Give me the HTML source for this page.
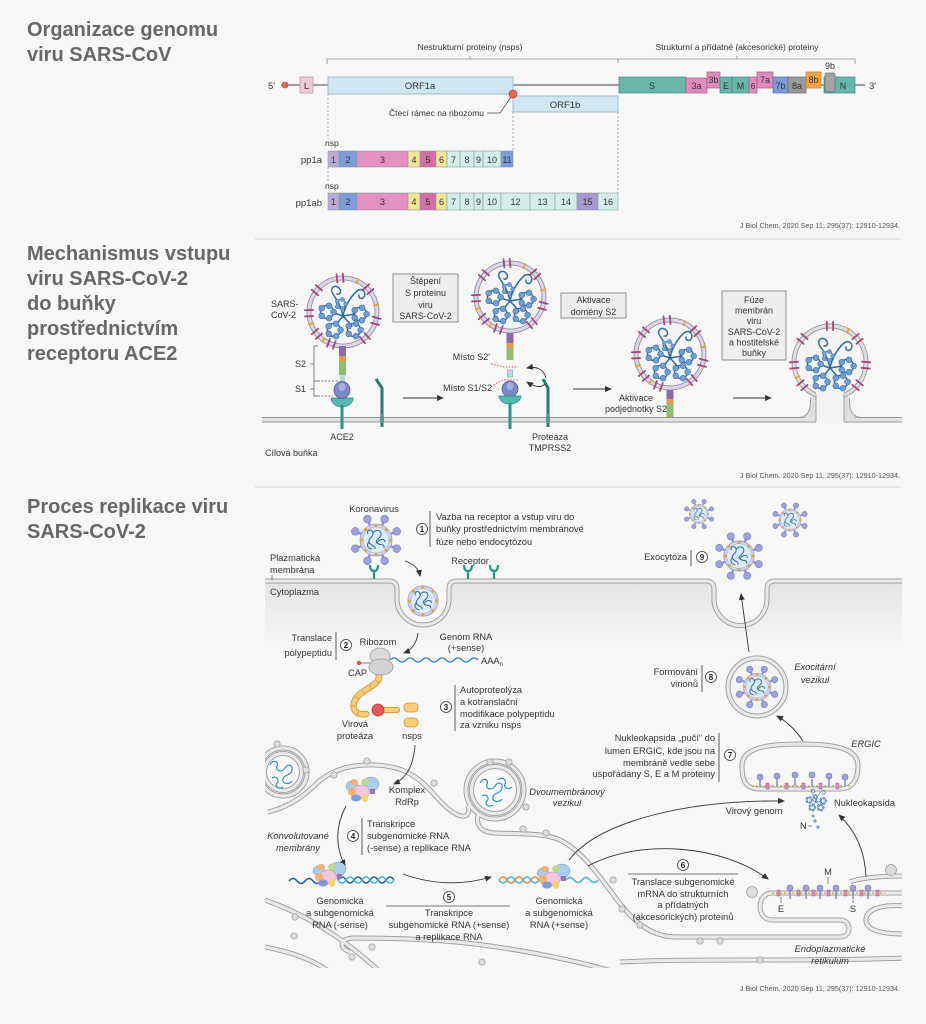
<!DOCTYPE html>
<html><head><meta charset="utf-8">
<style>
html,body{margin:0;padding:0;background:#f7f7f7;}
svg{display:block;}
text{font-family:"Liberation Sans",Arial,sans-serif;}
.t{font-size:20px;font-weight:bold;fill:#676767;}
.s1{font-size:8.5px;fill:#333;}
.n{font-size:9.5px;fill:#333;}
.nb{font-size:9px;fill:#333;}
.d{font-size:9px;fill:#333;}
.p{font-size:9.3px;fill:#333;}
.i{font-style:italic;}
.c{font-size:7.2px;fill:#555;}
.num{font-size:8px;font-weight:bold;fill:#222;}
</style></head><body>
<svg width="926" height="1024" viewBox="0 0 926 1024" xmlns="http://www.w3.org/2000/svg">
<defs>
<marker id="ah" markerUnits="userSpaceOnUse" markerWidth="7" markerHeight="7" refX="6" refY="3.5" orient="auto"><path d="M0,0.5 L7,3.5 L0,6.5 Z" fill="#333"/></marker>
<linearGradient id="cyt" x1="0" y1="0" x2="0" y2="1"><stop offset="0" stop-color="#e4e4e4"/><stop offset="1" stop-color="#f7f7f7"/></linearGradient>
<clipPath id="cl3"><rect x="265" y="700" width="637" height="268"/></clipPath>
<g id="ros">
 <circle r="5.5" fill="none" stroke="#2b6c9e" stroke-width="1.2"/>
 <g fill="#6f9fd6" stroke="#3a6aa4" stroke-width="0.5">
  <circle cx="5.5" cy="0" r="2.4"/><circle cx="1.7" cy="5.2" r="2.4"/><circle cx="-4.4" cy="3.2" r="2.4"/><circle cx="-4.4" cy="-3.2" r="2.4"/><circle cx="1.7" cy="-5.2" r="2.4"/>
 </g>
</g>
<g id="rnp">
 <g fill="none" stroke="#2b6c9e" stroke-width="1.5" stroke-linecap="round">
  <path d="M0,4 C-2,-6 -6,-12 -10,-18 C-14,-24 -8,-28 -4,-24 C-1,-21 -3,-17 -6,-18"/>
  <path d="M0,4 C2,-6 8,-16 14,-21 C19,-25 24,-20 21,-15 C19,-12 15,-14 16,-17"/>
  <path d="M0,4 L-12,0"/><path d="M0,4 L12,2"/><path d="M0,4 L-8,14"/><path d="M0,4 L9,14"/>
 </g>
 <use href="#ros" transform="translate(-16,0) scale(1.2)"/>
 <use href="#ros" transform="translate(17,2) scale(1.2)"/>
 <use href="#ros" transform="translate(-9,18) scale(1.2)"/>
 <use href="#ros" transform="translate(11,18) scale(1.2)"/>
 <use href="#ros" transform="translate(-2,-8) scale(0.85)"/>
</g>
<g id="sp2"><rect x="-5" y="-4" width="10" height="1.8" rx="0.9"/><rect x="-5" y="2.2" width="10" height="1.8" rx="0.9"/></g>
<g id="v2">
 <circle r="36" fill="#dcd5ea" stroke="#888" stroke-width="0.8"/>
 <circle r="32" fill="#f5f5f7" stroke="#888" stroke-width="0.8"/>
 <g fill="#a64680">
  <use href="#sp2" transform="rotate(-95) translate(34,0)"/>
  <use href="#sp2" transform="rotate(-140) translate(34,0)"/>
  <use href="#sp2" transform="rotate(-42) translate(34,0)"/>
  <use href="#sp2" transform="rotate(178) translate(34,0)"/>
  <use href="#sp2" transform="rotate(140) translate(34,0)"/>
  <use href="#sp2" transform="rotate(15) translate(34,0)"/>
  <use href="#sp2" transform="rotate(50) translate(34,0)"/>
  <use href="#sp2" transform="rotate(110) translate(34,0)"/>
 </g>
 <g fill="#e6a53a">
  <g transform="rotate(-65) translate(34,0)"><rect x="-3" y="-0.9" width="6" height="1.8"/></g>
  <g transform="rotate(-12) translate(34,0)"><rect x="-3" y="-0.9" width="6" height="1.8"/></g>
  <g transform="rotate(160) translate(34,0)"><rect x="-3" y="-0.9" width="6" height="1.8"/></g>
  <g transform="rotate(125) translate(34,0)"><rect x="-3" y="-0.9" width="6" height="1.8"/></g>
 </g>
 <use href="#rnp"/>
</g>
<g id="v3c">
 <circle r="16" fill="#d2cdea" stroke="#8a8fb5" stroke-width="0.6"/>
 <circle r="13" fill="#dcebf6" stroke="#9fb3c5" stroke-width="0.5"/>
 <g fill="#d9a53c">
  <circle cx="14.5" cy="0" r="1.6"/><circle cx="-14.5" cy="0" r="1.6"/><circle cx="0" cy="14.5" r="1.6"/><circle cx="0" cy="-14.5" r="1.6"/>
  <circle cx="10.3" cy="10.3" r="1.6"/><circle cx="-10.3" cy="10.3" r="1.6"/><circle cx="10.3" cy="-10.3" r="1.6"/><circle cx="-10.3" cy="-10.3" r="1.6"/>
 </g>
 <path d="M-8,-6 C-10,-10 -4,-12 -3,-7 C-2,-3 -8,-2 -7,2 C-6,6 0,5 -1,9 M-3,-7 C0,-11 6,-10 5,-5 C4,-1 -2,0 1,3 C4,6 9,3 8,8 M-7,2 C-10,5 -8,9 -4,9 M1,3 C3,-1 9,-2 9,2" fill="none" stroke="#2f6c9c" stroke-width="1.1"/>
</g>
<g id="sp3"><line x1="15" y1="0" x2="20" y2="0" stroke="#8b8fd0" stroke-width="2.4"/><circle cx="22.5" cy="0" r="3.8" fill="#9ea2dc" stroke="#7175b8" stroke-width="0.6"/></g>
<g id="v3">
 <use href="#sp3" transform="rotate(22.5)"/><use href="#sp3" transform="rotate(67.5)"/><use href="#sp3" transform="rotate(112.5)"/><use href="#sp3" transform="rotate(157.5)"/>
 <use href="#sp3" transform="rotate(202.5)"/><use href="#sp3" transform="rotate(247.5)"/><use href="#sp3" transform="rotate(292.5)"/><use href="#sp3" transform="rotate(337.5)"/>
 <use href="#v3c"/>
</g>
<g id="rdrp">
 <ellipse cx="9" cy="-6" rx="8" ry="7" fill="#a9cdea" stroke="#6a8fb0" stroke-width="0.5"/>
 <ellipse cx="-10" cy="-4" rx="6" ry="5" fill="#a9cdea" stroke="#6a8fb0" stroke-width="0.5"/>
 <ellipse cx="-8" cy="-8" rx="4" ry="3" fill="#f0b070"/>
 <ellipse cx="3" cy="-8" rx="4" ry="3.5" fill="#bcd98e"/>
 <ellipse cx="-1" cy="2" rx="8.5" ry="7" fill="#f2c6dc" stroke="#c08aa8" stroke-width="0.5"/>
 <ellipse cx="-10" cy="2" rx="4" ry="4" fill="#f0b070"/>
 <ellipse cx="-6" cy="8" rx="5" ry="3.5" fill="#7f9ad4"/>
 <ellipse cx="3" cy="8" rx="3" ry="4" fill="#f3d36a"/>
 <rect x="8" y="-1" width="5" height="5" fill="#9a74b8"/>
</g>
</defs>

<!-- Titles -->
<text class="t" x="27" y="36">Organizace genomu</text>
<text class="t" x="27" y="61">viru SARS-CoV</text>
<text class="t" x="27" y="260">Mechanismus vstupu</text>
<text class="t" x="27" y="285">viru SARS-CoV-2</text>
<text class="t" x="27" y="310">do buňky</text>
<text class="t" x="27" y="335">prostřednictvím</text>
<text class="t" x="27" y="360">receptoru ACE2</text>
<text class="t" x="27" y="513">Proces replikace viru</text>
<text class="t" x="27" y="538">SARS-CoV-2</text>

<line x1="255" y1="239" x2="900" y2="239" stroke="#dcdcdc" stroke-width="1.2"/>
<line x1="255" y1="487" x2="900" y2="487" stroke="#dcdcdc" stroke-width="1.2"/>

<!-- ============ SECTION 1 ============ -->
<g stroke="#8a8a8a" stroke-width="0.8" fill="none">
 <path d="M327,64 V59 H855 V64"/><path d="M618,59 V63"/><path d="M470,59 V56"/><path d="M737,59 V56"/>
</g>
<text class="s1" x="470" y="50" text-anchor="middle">Nestrukturní proteiny (nsps)</text>
<text class="s1" x="737" y="50" text-anchor="middle">Strukturní a přídatné (akcesorické) proteiny</text>
<line x1="281" y1="85" x2="865" y2="85" stroke="#444" stroke-width="1"/>
<text x="268" y="89" class="n">5′</text>
<circle cx="285" cy="85" r="3" fill="#ec6a55" stroke="#a83a2a" stroke-width="0.6"/>
<rect x="300" y="77" width="13" height="16" fill="#efcbd6" stroke="#a0a0a0" stroke-width="0.7"/>
<text x="306.5" y="89" text-anchor="middle" class="n">L</text>
<rect x="328" y="77" width="185" height="17" fill="#cfe7f1" stroke="#8fb3c0" stroke-width="0.8"/>
<text x="420" y="89" text-anchor="middle" class="n">ORF1a</text>
<rect x="513" y="96" width="105" height="16" fill="#cfe7f1" stroke="#8fb3c0" stroke-width="0.8"/>
<text x="565" y="108" text-anchor="middle" class="n">ORF1b</text>
<path d="M487,113 H500 L511,97" stroke="#444" stroke-width="0.7" fill="none"/>
<circle cx="513" cy="94" r="4" fill="#e86a55" stroke="#b04030" stroke-width="0.7"/>
<text x="484" y="116" text-anchor="end" class="s1">Čtecí rámec na ribozomu</text>
<g stroke="#888" stroke-width="0.7" stroke-dasharray="2,2">
 <line x1="328" y1="94" x2="328" y2="139"/><line x1="328" y1="167" x2="328" y2="181"/>
 <line x1="513" y1="112" x2="513" y2="151"/><line x1="618" y1="112" x2="618" y2="193"/>
</g>
<g stroke-width="0.7">
 <rect x="619" y="77" width="67" height="16" fill="#68b5aa" stroke="#3e8a80"/>
 <rect x="686" y="78" width="21" height="15" fill="#df8bbd" stroke="#a85a88"/>
 <rect x="707" y="72" width="13" height="16" fill="#df8bbd" stroke="#a85a88"/>
 <rect x="720" y="77" width="12" height="16" fill="#68b5aa" stroke="#3e8a80"/>
 <rect x="732" y="77" width="17" height="16" fill="#68b5aa" stroke="#3e8a80"/>
 <rect x="749" y="77" width="8" height="16" fill="#df8bbd" stroke="#a85a88"/>
 <rect x="757" y="72" width="16" height="16" fill="#df8bbd" stroke="#a85a88"/>
 <rect x="773" y="77" width="15" height="16" fill="#7d9bd6" stroke="#4f6fae"/>
 <rect x="788" y="77" width="18" height="16" fill="#9a9a9a" stroke="#6a6a6a"/>
 <rect x="806" y="72" width="15" height="16" fill="#f3a24a" stroke="#c07a2a"/>
 <rect x="824" y="77" width="31" height="16" fill="#68b5aa" stroke="#3e8a80"/>
 <rect x="825" y="73" width="10" height="19" rx="2" fill="#a4a4a4" stroke="#6a6a6a"/>
</g>
<g class="nb" text-anchor="middle">
 <text x="652" y="89">S</text><text x="696.5" y="89">3a</text><text x="713.5" y="83">3b</text>
 <text x="726" y="89">E</text><text x="740.5" y="89">M</text><text x="753" y="89" style="font-size:8px">6</text>
 <text x="765" y="83">7a</text><text x="780.5" y="89">7b</text><text x="797" y="89">8a</text>
 <text x="813.5" y="83">8b</text><text x="843" y="89">N</text><text x="830" y="69">9b</text>
</g>
<text x="869" y="89" class="n">3′</text>
<text x="325" y="146" class="s1">nsp</text>
<text x="322" y="163" text-anchor="end" class="n">pp1a</text>
<g stroke="#8a9a9c" stroke-width="0.6">
 <rect x="328" y="151" width="11" height="16" fill="#b9abd9"/>
 <rect x="339" y="151" width="18" height="16" fill="#7d9bd6"/>
 <rect x="357" y="151" width="51" height="16" fill="#e391c3"/>
 <rect x="408" y="151" width="12" height="16" fill="#f2e59a"/>
 <rect x="420" y="151" width="16" height="16" fill="#d06fa8"/>
 <rect x="436" y="151" width="11" height="16" fill="#f2e59a"/>
 <rect x="447" y="151" width="13" height="16" fill="#d3eeea"/>
 <rect x="460" y="151" width="14" height="16" fill="#d3eeea"/>
 <rect x="474" y="151" width="9" height="16" fill="#d3eeea"/>
 <rect x="483" y="151" width="18" height="16" fill="#d3eeea"/>
 <rect x="501" y="151" width="12" height="16" fill="#7d9bd6"/>
</g>
<g class="nb" text-anchor="middle">
 <text x="333.5" y="163">1</text><text x="348" y="163">2</text><text x="382.5" y="163">3</text><text x="414" y="163">4</text>
 <text x="428" y="163">5</text><text x="441.5" y="163">6</text><text x="453.5" y="163">7</text><text x="467" y="163">8</text>
 <text x="478.5" y="163">9</text><text x="492" y="163">10</text><text x="507" y="163">11</text>
</g>
<text x="325" y="189" class="s1">nsp</text>
<text x="322" y="206" text-anchor="end" class="n">pp1ab</text>
<g stroke="#8a9a9c" stroke-width="0.6">
 <rect x="328" y="193" width="11" height="17" fill="#b9abd9"/>
 <rect x="339" y="193" width="18" height="17" fill="#7d9bd6"/>
 <rect x="357" y="193" width="51" height="17" fill="#e391c3"/>
 <rect x="408" y="193" width="12" height="17" fill="#f2e59a"/>
 <rect x="420" y="193" width="16" height="17" fill="#d06fa8"/>
 <rect x="436" y="193" width="11" height="17" fill="#f2e59a"/>
 <rect x="447" y="193" width="13" height="17" fill="#d3eeea"/>
 <rect x="460" y="193" width="14" height="17" fill="#d3eeea"/>
 <rect x="474" y="193" width="9" height="17" fill="#d3eeea"/>
 <rect x="483" y="193" width="18" height="17" fill="#d3eeea"/>
 <rect x="501" y="193" width="29" height="17" fill="#d3eeea"/>
 <rect x="530" y="193" width="25" height="17" fill="#d3eeea"/>
 <rect x="555" y="193" width="22" height="17" fill="#d3eeea"/>
 <rect x="577" y="193" width="21" height="17" fill="#a898d0"/>
 <rect x="598" y="193" width="20" height="17" fill="#d3eeea"/>
</g>
<g class="nb" text-anchor="middle">
 <text x="333.5" y="205">1</text><text x="348" y="205">2</text><text x="382.5" y="205">3</text><text x="414" y="205">4</text>
 <text x="428" y="205">5</text><text x="441.5" y="205">6</text><text x="453.5" y="205">7</text><text x="467" y="205">8</text>
 <text x="478.5" y="205">9</text><text x="492" y="205">10</text><text x="515.5" y="205">12</text><text x="542.5" y="205">13</text>
 <text x="566" y="205">14</text><text x="587.5" y="205">15</text><text x="608" y="205">16</text>
</g>
<text x="900" y="228" text-anchor="end" class="c">J Biol Chem. 2020 Sep 11; 295(37): 12910-12934.</text>

<!-- ============ SECTION 2 ============ -->
<rect x="262" y="417.5" width="640" height="4.5" fill="#e2e2e2"/>
<line x1="262" y1="422" x2="902" y2="422" stroke="#999" stroke-width="0.9"/>
<line x1="262" y1="417.5" x2="806" y2="417.5" stroke="#999" stroke-width="0.9"/>
<line x1="854" y1="417.5" x2="902" y2="417.5" stroke="#999" stroke-width="0.9"/>

<use href="#v2" transform="translate(343,312)"/>
<rect x="339" y="346" width="7" height="10" fill="#8c6aa8"/>
<rect x="339" y="356" width="7" height="6" fill="#e29a40"/>
<rect x="339" y="362" width="7" height="13" fill="#8cc070"/>
<rect x="340" y="375" width="5" height="9" fill="#b8d8e4"/>
<path d="M331,398 A11,9 0 0 0 353,398 Z" fill="#55b7ad" stroke="#2d8a80" stroke-width="0.7"/>
<line x1="342" y1="405" x2="342" y2="429" stroke="#2a9488" stroke-width="3"/>
<ellipse cx="342" cy="390" rx="8" ry="8.5" fill="#7d88c8" stroke="#4a5598" stroke-width="0.7"/>
<ellipse cx="342" cy="387" rx="3.5" ry="4" fill="#a6aee0"/>
<g stroke="#555" stroke-width="0.7" fill="none">
 <path d="M318,346 H314 V381 H318"/><path d="M314,364 H310"/><path d="M314,381 V396 H318"/><path d="M314,389 H310"/>
</g>
<g stroke="#555" stroke-width="0.7" stroke-dasharray="2,1.5"><line x1="318" y1="381" x2="338" y2="381"/><line x1="318" y1="396" x2="333" y2="396"/></g>
<text class="d" x="306" y="367" text-anchor="end">S2</text>
<text class="d" x="306" y="392" text-anchor="end">S1</text>
<text class="d" x="271" y="307">SARS-</text>
<text class="d" x="271" y="318">CoV-2</text>
<path d="M382,427 V388 L376,379" stroke="#2a7a70" stroke-width="3" fill="none" stroke-linejoin="round"/>
<rect x="380" y="414" width="4" height="9" rx="2" fill="#5a9a90"/>
<text class="d" x="342" y="440" text-anchor="middle">ACE2</text>
<text class="d" x="265" y="456">Cílová buňka</text>
<line x1="403" y1="398" x2="443" y2="398" stroke="#333" stroke-width="0.9" marker-end="url(#ah)"/>

<rect x="393" y="274" width="65" height="48" fill="#eeeeee" stroke="#777" stroke-width="0.8"/>
<g class="d" text-anchor="middle"><text x="425.5" y="284">Štěpení</text><text x="425.5" y="296">S proteinu</text><text x="425.5" y="308">viru</text><text x="425.5" y="319">SARS-CoV-2</text></g>

<use href="#v2" transform="translate(510,297)"/>
<rect x="506.5" y="333" width="7" height="10" fill="#8c6aa8"/>
<rect x="506.5" y="343" width="7" height="5" fill="#e29a40"/>
<rect x="506.5" y="348" width="7" height="12" fill="#8cc070"/>
<rect x="507.5" y="370" width="5" height="7" fill="#b8d8e4" stroke="#6a8a9a" stroke-width="0.5"/>
<path d="M491,364 Q500,366 505,367 L518,367" stroke="#e05050" stroke-width="1" stroke-dasharray="1.5,1.5" fill="none"/>
<path d="M491,387 Q500,380 505,380 L518,380" stroke="#e05050" stroke-width="1" stroke-dasharray="1.5,1.5" fill="none"/>
<text class="d" x="490" y="360" text-anchor="end">Místo S2′</text>
<text class="d" x="492" y="391" text-anchor="end">Místo S1/S2</text>
<ellipse cx="510" cy="389" rx="8" ry="8" fill="#7d88c8" stroke="#4a5598" stroke-width="0.7"/>
<ellipse cx="510" cy="386" rx="3.5" ry="4" fill="#a6aee0"/>
<path d="M499,396 A11,8 0 0 0 521,396 Z" fill="#55b7ad" stroke="#2d8a80" stroke-width="0.7"/>
<line x1="510" y1="403" x2="510" y2="429" stroke="#2a9488" stroke-width="3"/>
<path d="M548,427 V388 L543,379" stroke="#2a7a70" stroke-width="3" fill="none" stroke-linejoin="round"/>
<rect x="546" y="414" width="4" height="9" rx="2" fill="#5a9a90"/>
<path d="M546,378 C544,369 536,366 527,368" stroke="#333" stroke-width="0.9" fill="none" marker-end="url(#ah)"/>
<path d="M545,384 C540,389 533,386 527,382" stroke="#333" stroke-width="0.9" fill="none" marker-end="url(#ah)"/>
<text class="d" x="550" y="440" text-anchor="middle">Proteáza</text>
<text class="d" x="550" y="451" text-anchor="middle">TMPRSS2</text>

<rect x="561" y="293" width="65" height="25" fill="#eeeeee" stroke="#777" stroke-width="0.8"/>
<g class="d" text-anchor="middle"><text x="593.5" y="303">Aktivace</text><text x="593.5" y="315">domény S2</text></g>
<line x1="573" y1="389" x2="611" y2="389" stroke="#333" stroke-width="0.9" marker-end="url(#ah)"/>
<text class="d" x="636" y="401" text-anchor="middle">Aktivace</text>
<text class="d" x="636" y="412" text-anchor="middle">podjednotky S2</text>

<use href="#v2" transform="translate(670,354)"/>
<rect x="666.5" y="390" width="7" height="9" fill="#8c6aa8"/>
<rect x="666.5" y="399" width="7" height="5" fill="#e29a40"/>
<rect x="666.5" y="404" width="7" height="13" fill="#8cc070"/>

<rect x="722" y="291" width="64" height="69" fill="#eeeeee" stroke="#777" stroke-width="0.8"/>
<g class="d" text-anchor="middle"><text x="754" y="303">Fúze</text><text x="754" y="313.5">membrán</text><text x="754" y="324">viru</text><text x="754" y="335">SARS-CoV-2</text><text x="754" y="345.5">a hostitelské</text><text x="754" y="356">buňky</text></g>
<line x1="733" y1="398" x2="771" y2="398" stroke="#333" stroke-width="0.9" marker-end="url(#ah)"/>

<path d="M798,417.5 C808,417.5 811,410 810,397 L850,397 C849,410 852,417.5 862,417.5 Z" fill="#dedede"/>
<circle cx="830" cy="362" r="38" fill="#dedede" stroke="#999" stroke-width="0.9"/>
<circle cx="830" cy="362" r="34" fill="#f4f4f4" stroke="#999" stroke-width="0.9"/>
<rect x="816" y="388" width="28" height="34" fill="#f4f4f4"/>
<path d="M798,417.5 C808,417.5 811,410 810.5,398" stroke="#999" stroke-width="0.9" fill="none"/>
<path d="M862,417.5 C852,417.5 849,410 849.5,398" stroke="#999" stroke-width="0.9" fill="none"/>
<line x1="816" y1="394" x2="816" y2="422" stroke="#999" stroke-width="0.9"/>
<line x1="844" y1="394" x2="844" y2="422" stroke="#999" stroke-width="0.9"/>
<line x1="816" y1="422" x2="844" y2="422" stroke="#f4f4f4" stroke-width="1.2"/>
<g fill="#a64680">
 <use href="#sp2" transform="translate(830,362) rotate(-90) translate(36,0)"/>
 <use href="#sp2" transform="translate(830,362) rotate(-140) translate(36,0)"/>
 <use href="#sp2" transform="translate(830,362) rotate(-40) translate(36,0)"/>
 <use href="#sp2" transform="translate(830,362) rotate(175) translate(36,0)"/>
 <use href="#sp2" transform="translate(830,362) rotate(5) translate(36,0)"/>
 <use href="#sp2" transform="translate(830,362) rotate(40) translate(36,0)"/>
 <use href="#sp2" transform="translate(830,362) rotate(140) translate(36,0)"/>
</g>
<g fill="#e6a53a">
 <g transform="translate(830,362) rotate(-60) translate(36,0)"><rect x="-3" y="-0.9" width="6" height="1.8"/></g>
 <g transform="translate(830,362) rotate(155) translate(36,0)"><rect x="-3" y="-0.9" width="6" height="1.8"/></g>
</g>
<use href="#rnp" transform="translate(830,364)"/>
<text x="900" y="478" text-anchor="end" class="c">J Biol Chem. 2020 Sep 11; 295(37): 12910-12934.</text>

<!-- ============ SECTION 3 ============ -->
<rect x="265" y="583" width="637" height="62" fill="url(#cyt)"/>
<path d="M399,581 V599 A24,24 0 0 0 447,599 V581 Z" fill="#f7f7f7"/>
<path d="M716,581 V599 A24.5,24.5 0 0 0 765,599 V581 Z" fill="#f7f7f7"/>
<g fill="none">
 <path d="M265,581 H389 Q397,581 397,589 V599 A26,26 0 0 0 449,599 V589 Q449,581 457,581 H706 Q714,581 714,589 V599 A26.5,26.5 0 0 0 767,599 V589 Q767,581 775,581 H902" stroke="#999" stroke-width="5"/>
 <path d="M265,581 H389 Q397,581 397,589 V599 A26,26 0 0 0 449,599 V589 Q449,581 457,581 H706 Q714,581 714,589 V599 A26.5,26.5 0 0 0 767,599 V589 Q767,581 775,581 H902" stroke="#e8e8e8" stroke-width="3.2"/>
</g>
<line x1="272" y1="575" x2="272" y2="580" stroke="#555" stroke-width="0.7"/>
<g stroke="#2a9488" stroke-width="2.2" fill="none">
 <path d="M374,579 V571 M370,565 Q370,571 374,571 Q378,571 378,565"/>
 <path d="M468,579 V571 M464,565 Q464,571 468,571 Q472,571 472,565"/>
 <path d="M494,579 V571 M490,565 Q490,571 494,571 Q498,571 498,565"/>
</g>
<use href="#v3" transform="translate(376,540)"/>
<use href="#v3c" transform="translate(423,601) scale(0.95)"/>
<text class="p" x="374" y="512" text-anchor="middle">Koronavirus</text>
<circle cx="422" cy="529" r="5.5" fill="#fff" stroke="#333" stroke-width="0.8"/><text class="num" x="422" y="532" text-anchor="middle">1</text>
<line x1="430" y1="511" x2="430" y2="547" stroke="#333" stroke-width="0.8"/>
<g class="p"><text x="436" y="520">Vazba na receptor a vstup viru do</text><text x="436" y="532">buňky prostřednictvím membránové</text><text x="436" y="545">fúze nebo endocytózou</text></g>
<text class="p" x="270" y="561">Plazmatická</text><text class="p" x="270" y="573">membrána</text>
<text class="p" x="470" y="564" text-anchor="middle">Receptor</text>
<text class="p" x="270" y="595">Cytoplazma</text>
<path d="M405,561 Q418,565 420,576" stroke="#333" stroke-width="0.9" fill="none" marker-end="url(#ah)"/>
<path d="M418,633 Q416,648 404,653" stroke="#333" stroke-width="0.9" fill="none" marker-end="url(#ah)"/>

<text class="p" x="332" y="641" text-anchor="end">Translace</text>
<text class="p" x="332" y="656" text-anchor="end">polypeptidu</text>
<line x1="336" y1="632" x2="336" y2="660" stroke="#333" stroke-width="0.8"/>
<circle cx="346" cy="645" r="5.5" fill="#fff" stroke="#333" stroke-width="0.8"/><text class="num" x="346" y="648" text-anchor="middle">2</text>
<text class="p" x="378" y="645" text-anchor="middle">Ribozom</text>
<text class="p" x="466" y="640" text-anchor="middle">Genom RNA</text>
<text class="p" x="466" y="651" text-anchor="middle">(+sense)</text>
<path d="M390,660 q4,-4 8,0 t8,0 t8,0 t8,0 t8,0 t8,0 t8,0 t8,0 t8,0 t8,0 t8,0" stroke="#3a8cc8" stroke-width="1.3" fill="none"/>
<text class="p" x="481" y="664">AAA<tspan style="font-size:6px" dy="2">n</tspan></text>
<path d="M378,673 C384,684 364,688 357,697 C350,706 354,716 366,714" stroke="#d49a3a" stroke-width="6.5" fill="none" stroke-linecap="round"/>
<path d="M378,673 C384,684 364,688 357,697 C350,706 354,716 366,714" stroke="#f7cd7a" stroke-width="4.6" fill="none" stroke-linecap="round"/>
<path d="M378,673 C384,684 364,688 357,697 C350,706 354,716 366,714" stroke="#d49a3a" stroke-width="5" fill="none" stroke-dasharray="0.8,8"/>
<path d="M384,710 H397" stroke="#d49a3a" stroke-width="6" stroke-linecap="round"/>
<path d="M384,710 H397" stroke="#f7cd7a" stroke-width="4.2" stroke-linecap="round"/>
<line x1="360" y1="663" x2="370" y2="663" stroke="#666" stroke-width="0.8"/>
<ellipse cx="380" cy="656" rx="10" ry="8" fill="#dadada" stroke="#999" stroke-width="0.8"/>
<ellipse cx="381" cy="667" rx="12" ry="8" fill="#d2d2d2" stroke="#999" stroke-width="0.8"/>
<circle cx="359" cy="663" r="2.2" fill="#e05050"/>
<text class="p" x="348" y="676">CAP</text>
<circle cx="378" cy="710" r="6" fill="#e85a5a" stroke="#b03030" stroke-width="0.7"/>
<rect x="404" y="703" width="14" height="9" rx="4" fill="#f7cd7a" stroke="#d49a3a" stroke-width="0.8"/>
<rect x="404" y="718" width="14" height="9" rx="4" fill="#f7cd7a" stroke="#d49a3a" stroke-width="0.8"/>
<text class="p" x="355" y="727" text-anchor="middle">Virová</text>
<text class="p" x="355" y="739" text-anchor="middle">proteáza</text>
<text class="p" x="412" y="739" text-anchor="middle">nsps</text>
<circle cx="446" cy="707" r="5.5" fill="#fff" stroke="#333" stroke-width="0.8"/><text class="num" x="446" y="710" text-anchor="middle">3</text>
<line x1="455" y1="685" x2="455" y2="731" stroke="#333" stroke-width="0.8"/>
<g class="p"><text x="460" y="693">Autoproteolýza</text><text x="460" y="705">a kotranslační</text><text x="460" y="717">modifikace polypeptidu</text><text x="460" y="728">za vzniku nsps</text></g>

<use href="#v3" transform="translate(699,514) scale(0.6)"/>
<use href="#v3" transform="translate(790,520) scale(0.7)"/>
<use href="#v3" transform="translate(739,556) scale(0.95)"/>
<text class="p" x="687" y="560" text-anchor="end">Exocytóza</text>
<line x1="691" y1="550" x2="691" y2="566" stroke="#333" stroke-width="0.8"/>
<circle cx="702" cy="557" r="5.5" fill="#fff" stroke="#333" stroke-width="0.8"/><text class="num" x="702" y="560" text-anchor="middle">9</text>
<line x1="749" y1="652" x2="741" y2="594" stroke="#333" stroke-width="0.9" marker-end="url(#ah)"/>
<circle cx="757" cy="687" r="29" fill="#f3f3f3" stroke="#999" stroke-width="5"/>
<circle cx="757" cy="687" r="29" fill="none" stroke="#e8e8e8" stroke-width="3.2"/>
<use href="#v3" transform="translate(757,687) scale(0.85)"/>
<text class="p i" x="815" y="670" text-anchor="middle">Exocitární</text>
<text class="p i" x="815" y="683" text-anchor="middle">vezikul</text>
<text class="p" x="698" y="675" text-anchor="end">Formování</text>
<text class="p" x="698" y="687" text-anchor="end">virionů</text>
<line x1="702" y1="665" x2="702" y2="692" stroke="#333" stroke-width="0.8"/>
<circle cx="711" cy="677" r="5.5" fill="#fff" stroke="#333" stroke-width="0.8"/><text class="num" x="711" y="680" text-anchor="middle">8</text>
<path d="M803,741 C796,730 786,721 777,716" stroke="#333" stroke-width="0.9" fill="none" marker-end="url(#ah)"/>

<g clip-path="url(#cl3)" fill="none">
 <g stroke="#9a9a9a" stroke-width="5">
  <circle cx="283" cy="772" r="24"/><circle cx="283" cy="772" r="18.5"/>
  <circle cx="495" cy="790" r="29"/><circle cx="495" cy="790" r="23.5"/>
  <path d="M268,812 C285,808 300,800 315,785 C330,770 350,764 375,765 C400,766 415,774 430,790 C442,803 452,815 462,816 C468,817 470,812 468,806"/>
  <path d="M478,815 C476,825 480,832 495,833 C520,834 545,833 560,840 C580,850 595,870 612,893 C628,915 645,936 675,937 L840,937 C852,937 852,920 840,920 L772,920 C756,920 756,893 772,893 L905,893"/>
  <path d="M850,882 C860,878 880,876 905,876"/>
  <path d="M905,906 C880,904 866,910 866,920 C866,930 880,934 905,934"/>
  <path d="M265,900 C300,912 340,935 378,970"/>
  <path d="M350,952 C338,948 340,938 354,938 C400,938 450,940 490,946 C540,953 580,962 615,972"/>
  <path d="M265,947 C290,952 310,958 330,972"/>
  <path d="M620,962 C700,958 800,962 905,958"/>
  <path d="M742,766 C742,750 760,744 800,744 C840,744 858,750 858,766 C858,780 852,789 840,789 L760,789 C745,789 742,780 742,766 Z"/>
 </g>
 <g stroke="#e9e9e9" stroke-width="3.2">
  <circle cx="283" cy="772" r="24"/><circle cx="283" cy="772" r="18.5"/>
  <circle cx="495" cy="790" r="29"/><circle cx="495" cy="790" r="23.5"/>
  <path d="M268,812 C285,808 300,800 315,785 C330,770 350,764 375,765 C400,766 415,774 430,790 C442,803 452,815 462,816 C468,817 470,812 468,806"/>
  <path d="M478,815 C476,825 480,832 495,833 C520,834 545,833 560,840 C580,850 595,870 612,893 C628,915 645,936 675,937 L840,937 C852,937 852,920 840,920 L772,920 C756,920 756,893 772,893 L905,893"/>
  <path d="M850,882 C860,878 880,876 905,876"/>
  <path d="M905,906 C880,904 866,910 866,920 C866,930 880,934 905,934"/>
  <path d="M265,900 C300,912 340,935 378,970"/>
  <path d="M350,952 C338,948 340,938 354,938 C400,938 450,940 490,946 C540,953 580,962 615,972"/>
  <path d="M265,947 C290,952 310,958 330,972"/>
  <path d="M620,962 C700,958 800,962 905,958"/>
  <path d="M742,766 C742,750 760,744 800,744 C840,744 858,750 858,766 C858,780 852,789 840,789 L760,789 C745,789 742,780 742,766 Z"/>
 </g>
 <g fill="#dcdcdc" stroke="#9a9a9a" stroke-width="0.7">
  <circle cx="277" cy="744" r="3.2"/><circle cx="306" cy="770" r="3.2"/><circle cx="334" cy="775" r="3.2"/><circle cx="367" cy="761" r="3.2"/>
  <circle cx="434" cy="783" r="3.2"/><circle cx="490" cy="762" r="3.2"/><circle cx="509" cy="762" r="3.2"/><circle cx="526" cy="807" r="3.2"/>
  <circle cx="523" cy="829" r="3.2"/><circle cx="546" cy="833" r="3.2"/><circle cx="613" cy="880" r="3.2"/><circle cx="622" cy="909" r="3.2"/>
  <circle cx="295" cy="917" r="3.2"/><circle cx="294" cy="936" r="3.2"/><circle cx="352" cy="957" r="3.2"/><circle cx="372" cy="947" r="3.2"/>
  <circle cx="482" cy="962" r="3.2"/><circle cx="700" cy="941" r="3.2"/><circle cx="720" cy="941" r="3.2"/><circle cx="640" cy="925" r="3.2"/>
  <circle cx="752" cy="892" r="5.5"/><circle cx="891" cy="870" r="5.5"/><circle cx="760" cy="960" r="3.2"/>
 </g>
 <g fill="none" stroke="#2e8fc0" stroke-width="1.2">
  <path d="M270,765 c3,-6 9,-4 7,1 c-2,5 5,7 8,2 c3,-5 8,-3 7,2 c-1,6 -8,4 -9,9 c-1,5 6,6 9,2 M272,778 c4,-3 8,2 5,5 c-3,3 2,7 6,4"/>
  <path d="M480,783 c3,-6 9,-4 7,1 c-2,5 5,7 8,2 c3,-5 8,-3 7,2 c-1,6 -8,4 -9,9 c-1,5 6,6 9,2 M482,796 c4,-3 8,2 5,5 c-3,3 2,7 6,4 M498,780 c4,-4 9,0 7,4 c-2,4 4,6 7,3"/>
 </g>
</g>
<g stroke="#d9a53c" stroke-width="1.2" stroke-dasharray="2,2"><line x1="752" y1="786" x2="852" y2="786"/></g>
<g stroke="#8b8fd0" stroke-width="1.6">
 <line x1="760" y1="786" x2="760" y2="779"/><line x1="777" y1="786" x2="777" y2="779"/><line x1="795" y1="786" x2="795" y2="779"/>
 <line x1="812" y1="786" x2="812" y2="779"/><line x1="829" y1="786" x2="829" y2="779"/><line x1="845" y1="786" x2="845" y2="779"/>
</g>
<g fill="#9ea2dc" stroke="#7175b8" stroke-width="0.6">
 <circle cx="760" cy="777" r="3"/><circle cx="777" cy="776" r="3"/><circle cx="795" cy="775" r="3"/><circle cx="812" cy="775" r="3"/><circle cx="829" cy="776" r="3"/><circle cx="845" cy="777" r="3"/>
</g>
<g fill="#d98ab5" stroke="#a85a88" stroke-width="0.5">
 <rect x="766" y="783" width="3" height="6"/><rect x="785" y="783" width="3" height="6"/><rect x="802" y="783" width="3" height="6"/><rect x="819" y="783" width="3" height="6"/><rect x="836" y="783" width="3" height="6"/>
</g>
<text class="p i" x="866" y="747" text-anchor="middle">ERGIC</text>
<use href="#rnp" transform="translate(816,800) scale(0.42)"/>
<text class="p" x="834" y="806">Nukleokapsida</text>
<text class="p" x="800" y="829">N</text>
<line x1="808" y1="826" x2="812" y2="826" stroke="#555" stroke-width="0.7"/>
<circle cx="815" cy="821" r="1.6" fill="#6f9fd6"/><circle cx="818" cy="827" r="1.6" fill="#6f9fd6"/><circle cx="813" cy="816" r="1.4" fill="#6f9fd6"/>
<text class="p" x="754" y="814" text-anchor="middle">Virový genom</text>
<text class="p" x="715" y="741" text-anchor="end">Nukleokapsida „pučí“ do</text>
<text class="p" x="715" y="754" text-anchor="end">lumen ERGIC, kde jsou na</text>
<text class="p" x="715" y="766" text-anchor="end">membráně vedle sebe</text>
<text class="p" x="715" y="777" text-anchor="end">uspořádány S, E a M proteiny</text>
<line x1="719" y1="733" x2="719" y2="782" stroke="#333" stroke-width="0.8"/>
<circle cx="730" cy="755" r="5.5" fill="#fff" stroke="#333" stroke-width="0.8"/><text class="num" x="730" y="758" text-anchor="middle">7</text>

<g stroke="#d9a53c" stroke-width="1.2" stroke-dasharray="2,2"><line x1="772" y1="893" x2="885" y2="893"/></g>
<g stroke="#8b8fd0" stroke-width="1.6">
 <line x1="790" y1="889" x2="790" y2="899"/><line x1="806" y1="889" x2="806" y2="899"/><line x1="820" y1="889" x2="820" y2="899"/>
 <line x1="836" y1="889" x2="836" y2="899"/><line x1="853" y1="889" x2="853" y2="899"/><line x1="868" y1="889" x2="868" y2="899"/>
</g>
<g fill="#9ea2dc" stroke="#7175b8" stroke-width="0.6">
 <circle cx="790" cy="888" r="3"/><circle cx="806" cy="888" r="3"/><circle cx="820" cy="888" r="3"/><circle cx="836" cy="888" r="3"/><circle cx="853" cy="888" r="3"/><circle cx="868" cy="888" r="3"/>
</g>
<g fill="#d98ab5" stroke="#a85a88" stroke-width="0.5">
 <rect x="777" y="890" width="3" height="6"/><rect x="797" y="890" width="3" height="6"/><rect x="812" y="890" width="3" height="6"/><rect x="827" y="890" width="3" height="6"/><rect x="844" y="890" width="3" height="6"/><rect x="860" y="890" width="3" height="6"/><rect x="876" y="890" width="3" height="6"/>
</g>
<g stroke="#555" stroke-width="0.7"><line x1="828" y1="877" x2="828" y2="884"/><line x1="781" y1="897" x2="781" y2="903"/><line x1="853" y1="900" x2="853" y2="903"/></g>
<text class="p" x="828" y="875" text-anchor="middle">M</text>
<text class="p" x="781" y="912" text-anchor="middle">E</text>
<text class="p" x="853" y="912" text-anchor="middle">S</text>
<text class="p i" x="830" y="952" text-anchor="middle">Endoplazmatické</text>
<text class="p i" x="830" y="964" text-anchor="middle">retikulum</text>

<use href="#rdrp" transform="translate(362,790)"/>
<text class="p" x="407" y="793" text-anchor="middle">Komplex</text>
<text class="p" x="407" y="805" text-anchor="middle">RdRp</text>
<path d="M415,745 Q413,775 394,784" stroke="#333" stroke-width="0.9" fill="none" marker-end="url(#ah)"/>
<text class="p i" x="567" y="795" text-anchor="middle">Dvoumembránový</text>
<text class="p i" x="567" y="806" text-anchor="middle">vezikul</text>
<text class="p i" x="298" y="839" text-anchor="middle">Konvolutované</text>
<text class="p i" x="298" y="851" text-anchor="middle">membrány</text>
<path d="M346,806 Q330,836 345,866" stroke="#333" stroke-width="0.9" fill="none" marker-end="url(#ah)"/>
<circle cx="353" cy="836" r="5.5" fill="#fff" stroke="#333" stroke-width="0.8"/><text class="num" x="353" y="839" text-anchor="middle">4</text>
<line x1="362" y1="818" x2="362" y2="855" stroke="#333" stroke-width="0.8"/>
<g class="p"><text x="367" y="827">Transkripce</text><text x="367" y="839">subgenomické RNA</text><text x="367" y="851">(-sense) a replikace RNA</text></g>

<path d="M289,881 q4,-5 8,0 t8,0 t8,0 t8,0 t8,0" stroke="#1f5c9a" stroke-width="1.5" fill="none"/>
<path d="M338,880 q4,-6 8,0 t8,0 t8,0 t8,0 t8,0 t8,0 t8,0" stroke="#1f5c9a" stroke-width="1.5" fill="none"/>
<path d="M338,880 q4,6 8,0 t8,0 t8,0 t8,0 t8,0 t8,0 t8,0" stroke="#3fb3dc" stroke-width="1.5" fill="none"/>
<use href="#rdrp" transform="translate(329,875)"/>
<g class="p" text-anchor="middle"><text x="340" y="904">Genomická</text><text x="340" y="916">a subgenomická</text><text x="340" y="928">RNA (-sense)</text></g>
<path d="M403,874 Q447,890 491,877" stroke="#333" stroke-width="0.9" fill="none" marker-end="url(#ah)"/>
<circle cx="449" cy="897" r="5.5" fill="#fff" stroke="#333" stroke-width="0.8"/><text class="num" x="449" y="900" text-anchor="middle">5</text>
<line x1="386" y1="906" x2="510" y2="906" stroke="#777" stroke-width="1"/>
<g class="p" text-anchor="middle"><text x="449" y="916">Transkripce</text><text x="449" y="928">subgenomické RNA (+sense)</text><text x="449" y="940">a replikace RNA</text></g>

<path d="M499,880 q4,-6 8,0 t8,0 t8,0 t8,0 t8,0 t8,0" stroke="#f08a2a" stroke-width="1.5" fill="none"/>
<path d="M499,880 q4,6 8,0 t8,0 t8,0 t8,0 t8,0 t8,0" stroke="#41b5d6" stroke-width="1.5" fill="none"/>
<path d="M566,880 q4,-5 8,0 t8,0 t8,0 t8,0" stroke="#41b5d6" stroke-width="1.5" fill="none"/>
<use href="#rdrp" transform="translate(553,877)"/>
<g class="p" text-anchor="middle"><text x="559" y="904">Genomická</text><text x="559" y="916">a subgenomická</text><text x="559" y="928">RNA (+sense)</text></g>

<path d="M569,860 C600,820 690,800 784,801" stroke="#333" stroke-width="0.9" fill="none" marker-end="url(#ah)"/>
<path d="M588,866 C640,838 722,845 768,879" stroke="#333" stroke-width="0.9" fill="none" marker-end="url(#ah)"/>
<path d="M866,877 C865,850 855,830 839,815" stroke="#333" stroke-width="0.9" fill="none" marker-end="url(#ah)"/>
<circle cx="683" cy="865" r="5.5" fill="#fff" stroke="#333" stroke-width="0.8"/><text class="num" x="683" y="868" text-anchor="middle">6</text>
<line x1="628" y1="874" x2="738" y2="874" stroke="#777" stroke-width="1"/>
<g class="p" text-anchor="middle"><text x="683" y="885">Translace subgenomické</text><text x="683" y="897">mRNA do strukturních</text><text x="683" y="908">a přídatných</text><text x="683" y="920">(akcesorických) proteinů</text></g>

<text x="900" y="991" text-anchor="end" class="c">J Biol Chem. 2020 Sep 11; 295(37): 12910-12934.</text>
</svg>
</body></html>
